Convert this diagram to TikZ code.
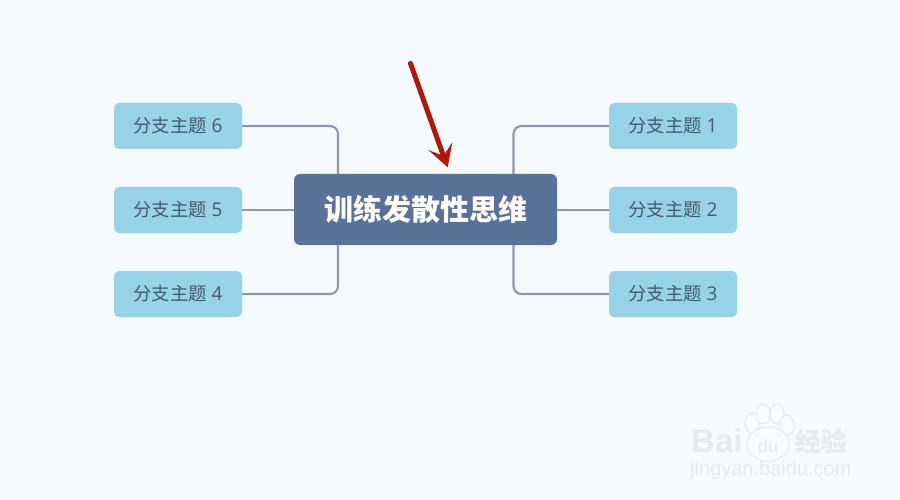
\documentclass[tikz,border=0pt]{standalone}
\usepackage{fontspec}
\usetikzlibrary{backgrounds}
\setmainfont{Noto Sans CJK SC}
\newfontfamily\latinfont{Open Sans}
\newfontfamily\wmfont{Liberation Sans}
\definecolor{bgc}{HTML}{F4FAFE}
\definecolor{branchc}{HTML}{96D3E9}
\definecolor{mainc}{HTML}{5A7199}
\definecolor{linec}{HTML}{8A99AE}
\definecolor{textc}{HTML}{465A6B}
\definecolor{redc}{HTML}{B5160B}
\definecolor{wmc}{HTML}{E6EBF0}
\tikzset{
  x=1pt,y=-1pt,
  branchbox/.style={fill=branchc,rounded corners=5pt,minimum width=128pt,minimum height=46pt,inner sep=0pt,text=textc,font=\fontsize{18.3}{20}\selectfont},
  mainbox/.style={fill=mainc,rounded corners=6pt,minimum width=263pt,minimum height=71pt,inner sep=0pt,text=white,font=\fontsize{29}{32}\selectfont\bfseries},
  link/.style={draw=linec,line width=2.1pt,rounded corners=8pt},
  wmark/.style={text=wmc,inner sep=0pt},
  pawpad/.style={draw=wmc,fill=bgc!60!white,line width=1.2pt}
}
\newcommand{\blabel}[1]{分支主题\hspace{5pt}{\latinfont\fontsize{19}{20}\selectfont #1}}
\begin{document}
\begin{tikzpicture}
\useasboundingbox (0,0) rectangle (900,500);
% boxes
\node[mainbox] (main) at (425.5,209.5) {训练发散性思维};
\node[branchbox] (b6) at (178,126) {\blabel{6}};
\node[branchbox] (b5) at (178,210) {\blabel{5}};
\node[branchbox] (b4) at (178,294) {\blabel{4}};
\node[branchbox] (b1) at (673,126) {\blabel{1}};
\node[branchbox] (b2) at (673,210) {\blabel{2}};
\node[branchbox] (b3) at (673,294) {\blabel{3}};
% links
\coordinate (jl) at (338,209.5);
\coordinate (jr) at (513.5,209.5);
\begin{scope}[on background layer]
\fill[bgc] (0,0) rectangle (900,500);
\draw[link] (b6.east) -| (jl);
\draw[link] (b4.east) -| (jl);
\draw[link] (b1.west) -| (jr);
\draw[link] (b3.west) -| (jr);
\draw[link] (b5.east) -- (b5.east -| main.west);
\draw[link] (b2.west) -- (b2.west -| main.east);
\end{scope}
% red arrow
\coordinate (atail) at (410.5,63.5);
\coordinate (atip) at (447.7,167.3);
\coordinate (anotch) at (443.5,156);
\coordinate (abl) at (428.3,150);
\coordinate (abr) at (452.3,142.3);
\draw[redc,line width=5pt,line cap=round] (atail) -- (anotch);
\fill[redc] (atip) -- (abl) -- (anotch) -- (abr) -- cycle;
% watermark
\foreach \px/\py/\ra/\rb in {752/423/7/10, 763/414/7/10, 777/414/7/10, 787/425/7/10}
  \draw[pawpad] (\px,\py) ellipse [x radius=\ra,y radius=\rb];
\draw[pawpad] (768,444) ellipse [x radius=21,y radius=17];
\node[wmark,font=\wmfont\bfseries\fontsize{33}{33}\selectfont,anchor=west] (wb) at (691,441) {Bai};
\node[wmark,font=\wmfont\fontsize{18}{18}\selectfont] (wd) at (768,446) {du};
\node[wmark,font=\bfseries\fontsize{26}{26}\selectfont,anchor=west] (wj) at (795,441) {经验};
\node[wmark,font=\wmfont\fontsize{20}{20}\selectfont,anchor=west] (wu) at (690,470) {jingyan.baidu.com};
\end{tikzpicture}
\end{document}
